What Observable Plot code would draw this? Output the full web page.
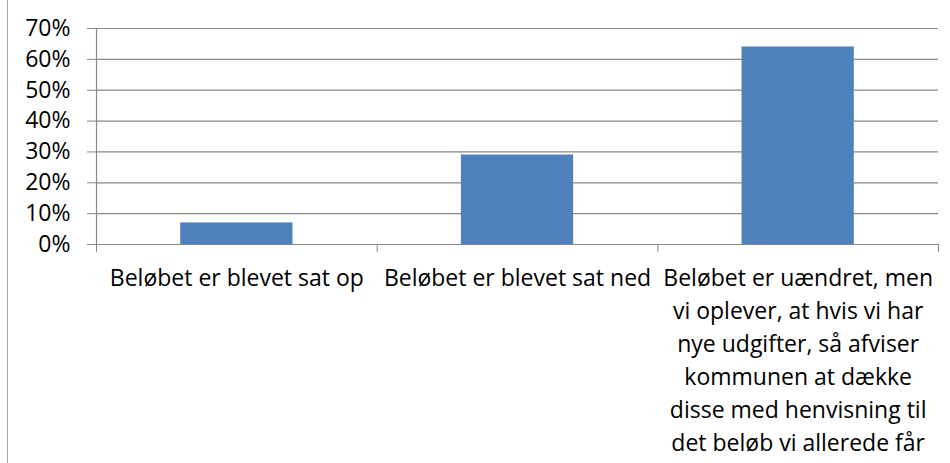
<!DOCTYPE html>
<html>
<head>
<meta charset="utf-8">
<script src="https://cdn.jsdelivr.net/npm/d3@7"></script>
<script src="https://cdn.jsdelivr.net/npm/@observablehq/plot@0.6"></script>
<style>
  html, body { margin: 0; padding: 0; background: #fff; }
  #wrap { position: relative; width: 950px; height: 463px; overflow: hidden; }
  #frame { position: absolute; left: 7px; top: 0; width: 1px; height: 463px; background: #a6a6a6; }
</style>
</head>
<body>
<div id="wrap"><div id="frame"></div></div>
<script>
const categories = [
  "Beløbet er blevet sat op",
  "Beløbet er blevet sat ned",
  "Beløbet er uændret, men\nvi oplever, at hvis vi har\nnye udgifter, så afviser\nkommunen at dække\ndisse med henvisning til\ndet beløb vi allerede får"
];
const values = [0.07, 0.29, 0.64];
const yTicks = [0, 0.1, 0.2, 0.3, 0.4, 0.5, 0.6, 0.7];
const edges = [0, 1, 2, 3];

const data = categories.map((c, i) => ({category: c, value: values[i], index: i}));
const gridColor = "#898989";
const fs = 23;

const chart = Plot.plot({
  width: 950,
  height: 463,
  marginLeft: 96,
  marginRight: 12,
  marginTop: 28,
  marginBottom: 219,
  style: {fontFamily: "'Open Sans', sans-serif", fontSize: fs + "px", color: "#000", background: "transparent", overflow: "visible"},
  x: {domain: [0, categories.length], axis: null},
  y: {domain: [0, 0.7], axis: null},
  marks: [
    Plot.gridY(yTicks, {stroke: gridColor, strokeOpacity: 1, strokeWidth: 1.2}),
    Plot.axisY({ticks: yTicks, tickFormat: d3.format(".0%"), tickSize: 9, tickPadding: 17, stroke: gridColor, strokeOpacity: 1, fill: "#000", label: null, fontSize: fs}),
    Plot.axisX({ticks: edges, tickSize: 8, tickFormat: () => "", stroke: gridColor, strokeOpacity: 1, label: null}),
    Plot.ruleX([0], {stroke: gridColor, strokeWidth: 1.2}),
    Plot.rectY(data, {x1: d => d.index + 0.3, x2: d => d.index + 0.7, y: "value", fill: "#4F81BD"}),
    Plot.text(data, {x: d => d.index + 0.5, y: () => 0, text: "category", lineAnchor: "top", dy: 18.5, lineHeight: 1.43, fill: "#000", fontSize: fs})
  ]
});
document.getElementById("wrap").appendChild(chart);
</script>
</body>
</html>
